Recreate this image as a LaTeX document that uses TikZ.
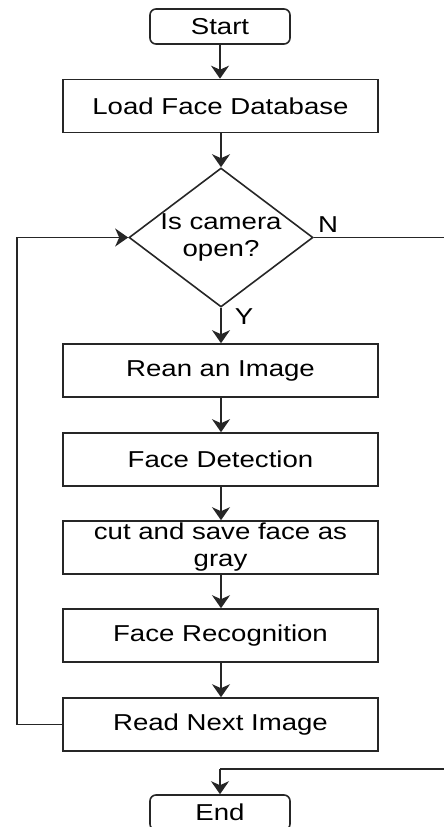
\documentclass[tikz,border=0pt]{standalone}
\usepackage{fontspec}
\setmainfont[FakeStretch=1.2]{Liberation Sans}
\usetikzlibrary{shapes.geometric,arrows.meta}
\begin{document}
\begin{tikzpicture}[x=1pt,y=-1pt,
  txt/.style={font=\fontsize{23}{27}\selectfont, align=center, text=black},
  box/.style={txt, draw=black!85, line width=1.6pt, minimum width=315pt, minimum height=53pt, inner sep=0pt},
  term/.style={txt, draw=black!85, rounded corners=6pt, line width=1.6pt, minimum width=140pt, minimum height=35pt, inner sep=0pt},
  ln/.style={draw=black!85, line width=1.6pt},
  arr/.style={ln, -{Stealth[length=13pt,width=18pt,inset=4pt]}}]
\useasboundingbox (0,0) rectangle (444,827);
\clip (0,0) rectangle (444,827);
\node[term] (start) at (220,26.5) {Start};
\node[box] (load) at (220.5,106) {Load Face Database};
\node[diamond, draw=black!85, line width=1.6pt, minimum width=184pt, minimum height=139pt, inner sep=0pt] (dec) at (221,237.5) {};
\node[txt] (dect) at (dec.center) {Is camera\\open?};
\node[box] (rean) at (220.5,370.5) {Rean an Image};
\node[box] (det) at (220.5,459.5) {Face Detection};
\node[box] (cut) at (220.5,547.5) {cut and save face as\\gray};
\node[box] (rec) at (220.5,635.5) {Face Recognition};
\node[box] (next) at (220.5,724.5) {Read Next Image};
\node[term] (end) at (220,812.5) {End};
\node[txt] (nlab) at (328,225) {N};
\node[txt] (ylab) at (244,317) {Y};
\coordinate (r1) at (447,237.5);
\coordinate (r2) at (447,769);
\coordinate (r3) at (220,769);
\coordinate (l1) at (17,724.5);
\coordinate (l2) at (17,237.5);
\draw[arr] (start) -- (start.south |- load.north);
\draw[arr] (load.south -| dec.north) -- (dec.north);
\draw[arr] (dec.south) -- (dec.south |- rean.north);
\draw[arr] (rean.south -| dec.south) -- (dec.south |- det.north);
\draw[arr] (det.south -| dec.south) -- (dec.south |- cut.north);
\draw[arr] (cut.south -| dec.south) -- (dec.south |- rec.north);
\draw[arr] (rec.south -| dec.south) -- (dec.south |- next.north);
\draw[arr] (next.west) -- (l1) -- (l2) -- (dec.west);
\draw[ln] (dec.east) -- (r1) -- (r2) -- (r3);
\draw[arr] (r3) -- (end.north);
\end{tikzpicture}
\end{document}
